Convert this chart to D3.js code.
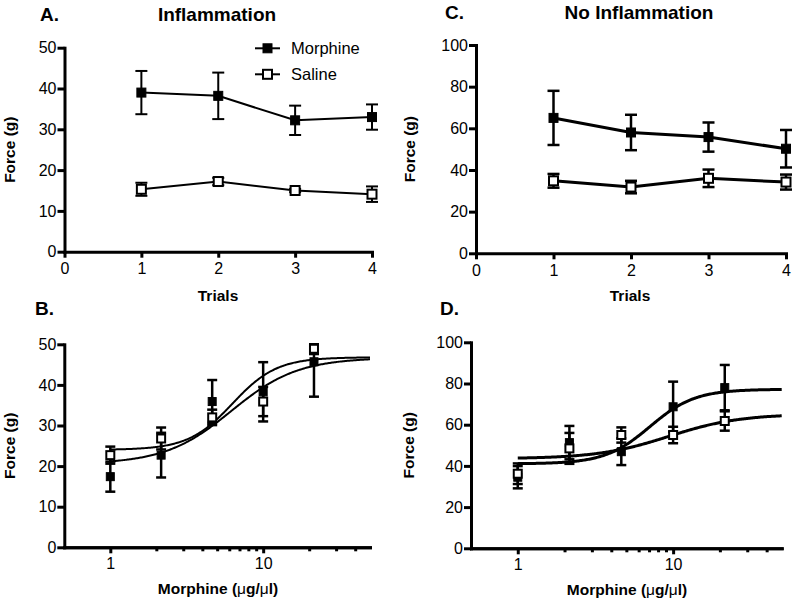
<!DOCTYPE html>
<html>
<head>
<meta charset="utf-8">
<script src="https://cdnjs.cloudflare.com/ajax/libs/d3/7.8.5/d3.min.js"></script>
<style>
  body { margin: 0; background: #fff; }
  svg { display: block; font-family: "Liberation Sans", Arial, Helvetica, sans-serif; }
  .axis path, .axis line { stroke: #000; stroke-width: 3; }
  .axis text { font-size: 16px; fill: #000; }
</style>
</head>
<body>
<div id="chart"></div>
<script>
// trials panels (A, C)
var trials = [1, 2, 3, 4];
var trialTicks = [0, 1, 2, 3, 4];
var aMorphMean = [39.0, 38.2, 32.2, 33.0];
var aMorphSem = [5.3, 5.7, 3.6, 3.1];
var aSalMean = [15.3, 17.2, 15.0, 14.1];
var aSalSem = [1.6, 0.9, 0.4, 1.9];
var cMorphMean = [65.0, 58.0, 55.8, 50.2];
var cMorphSem = [13.0, 8.5, 7.0, 9.0];
var cSalMean = [34.8, 31.8, 36.0, 34.2];
var cSalSem = [3.3, 3.0, 4.2, 3.6];

// dose-response panels (B, D)
var doses = [1, 2.15, 4.64, 10, 21.5];
var bMorphMean = [17.4, 22.7, 35.9, 38.3, 45.7];
var bMorphSem = [3.7, 5.5, 5.3, 7.3, 8.6];
var bSalMean = [22.7, 26.8, 32.0, 35.9, 48.9];
var bSalSem = [2.1, 2.7, 1.9, 3.6, 1.3];
var dMorphMean = [34.5, 51.3, 46.9, 68.7, 78.0];
var dMorphSem = [5.4, 8.1, 6.5, 12.2, 11.0];
var dSalMean = [36.2, 48.5, 55.0, 55.0, 61.8];
var dSalSem = [5.0, 7.5, 3.7, 4.0, 4.7];

// sigmoid fits: [bottom, top, EC50, hill]
var bMorphFit = [20.5, 46.7, 6.2, 2.0];
var bSalFit = [24.0, 46.8, 6.3, 3.0];
var dMorphFit = [41.0, 77.2, 7.1, 3.0];
var dSalFit = [43.5, 65.2, 9.4, 1.9];

var yTicks50 = [0, 10, 20, 30, 40, 50];
var yTicks100 = [0, 20, 40, 60, 80, 100];
var logMajor = [1, 10];
var logMinor = [2, 3, 4, 5, 6, 7, 8, 9, 20, 30, 40];

var svg = d3.select("#chart").append("svg")
  .attr("width", 800)
  .attr("height", 609);

function fitCurve(p) {
  return function (x) {
    return p[0] + (p[1] - p[0]) / (1 + Math.pow(10, (Math.log10(p[2]) - Math.log10(x)) * p[3]));
  };
}

function drawPanel(o) {
  var g = svg.append("g");
  var x = o.log
    ? d3.scaleLog().domain([0.5, 50]).range([o.left, o.right])
    : d3.scaleLinear().domain([0, 4]).range([o.left, o.right]);
  var y = d3.scaleLinear().domain(o.yDomain).range([o.bottom, o.top]).clamp(true);

  // axes
  g.append("g").attr("class", "axis")
    .attr("transform", "translate(" + o.left + ",0)")
    .call(d3.axisLeft(y).tickValues(o.yTicks).tickSize(7).tickPadding(1).tickSizeOuter(0));

  if (o.log) {
    g.append("g").attr("class", "axis")
      .attr("transform", "translate(0," + o.bottom + ")")
      .call(d3.axisBottom(x).tickValues(logMinor).tickSize(4).tickFormat("").tickSizeOuter(0));
    g.append("g").attr("class", "axis")
      .attr("transform", "translate(0," + o.bottom + ")")
      .call(d3.axisBottom(x).tickValues(logMajor).tickSize(6).tickPadding(4)
        .tickFormat(d3.format("d")).tickSizeOuter(0));
  } else {
    g.append("g").attr("class", "axis")
      .attr("transform", "translate(0," + o.bottom + ")")
      .call(d3.axisBottom(x).tickValues(trialTicks).tickSize(6).tickPadding(5)
        .tickFormat(d3.format("d")).tickSizeOuter(0));
  }
  g.selectAll(".axis .domain").attr("stroke-linecap", "square");

  // lines or fitted curves
  o.series.forEach(function (s) {
    var line = d3.line().x(function (d) { return x(d[0]); }).y(function (d) { return y(d[1]); });
    var pts;
    if (s.fit) {
      var f = fitCurve(s.fit);
      pts = d3.range(0, 241).map(function (i) {
        var xv = Math.pow(10, i / 240 * Math.log10(50));
        return [xv, f(xv)];
      });
    } else {
      pts = o.xs.map(function (d, i) { return [d, s.mean[i]]; });
    }
    g.append("path").attr("d", line(pts))
      .attr("fill", "none").attr("stroke", "#000").attr("stroke-width", o.lineW);
  });

  // error bars + markers
  o.series.forEach(function (s) {
    var eb = g.append("g").attr("stroke", "#000").attr("stroke-width", o.errW);
    o.xs.forEach(function (d, i) {
      var cx = x(d), lo = y(s.mean[i] - s.sem[i]), hi = y(s.mean[i] + s.sem[i]);
      eb.append("line").attr("x1", cx).attr("x2", cx).attr("y1", lo).attr("y2", hi);
      eb.append("line").attr("x1", cx - o.cap).attr("x2", cx + o.cap).attr("y1", lo).attr("y2", lo);
      eb.append("line").attr("x1", cx - o.cap).attr("x2", cx + o.cap).attr("y1", hi).attr("y2", hi);
    });
    var m = o.marker;
    g.selectAll(null).data(o.xs).enter().append("rect")
      .attr("x", function (d) { return x(d) - m / 2; })
      .attr("y", function (d, i) { return y(s.mean[i]) - m / 2; })
      .attr("width", m).attr("height", m)
      .attr("fill", s.open ? "#fff" : "#000")
      .attr("stroke", "#000").attr("stroke-width", s.open ? 2 : 1);
  });

  // texts
  g.append("text").attr("x", o.letterX).attr("y", o.letterY)
    .attr("font-size", 19).attr("font-weight", "bold").text(o.letter);
  if (o.title) {
    g.append("text").attr("x", o.titleX).attr("y", o.letterY).attr("text-anchor", "middle")
      .attr("font-size", 19).attr("font-weight", "bold").text(o.title);
  }
  g.append("text")
    .attr("transform", "translate(" + o.yLabelX + "," + ((o.top + o.bottom) / 2) + ") rotate(-90)")
    .attr("text-anchor", "middle").attr("font-size", 15.5).attr("font-weight", "bold").text("Force (g)");

  var xl = g.append("text").attr("x", o.xLabelX).attr("y", o.xLabelY).attr("text-anchor", "middle")
    .attr("font-size", 15.5).attr("font-weight", "bold");
  if (o.log) {
    xl.append("tspan").text("Morphine (");
    xl.append("tspan").attr("font-weight", "normal").text("μ");
    xl.append("tspan").text("g/");
    xl.append("tspan").attr("font-weight", "normal").text("μ");
    xl.append("tspan").text("l)");
  } else {
    xl.text("Trials");
  }
}

drawPanel({
  letter: "A.", letterX: 40, letterY: 21, title: "Inflammation", titleX: 217,
  left: 64.5, right: 372, top: 47.7, bottom: 251.7, yDomain: [0, 50], yTicks: yTicks50,
  xs: trials, lineW: 2, errW: 2, cap: 6, marker: 9,
  yLabelX: 15, xLabelX: 218, xLabelY: 301,
  series: [
    { mean: aMorphMean, sem: aMorphSem, open: false },
    { mean: aSalMean, sem: aSalSem, open: true }
  ]
});

drawPanel({
  letter: "C.", letterX: 445, letterY: 19, title: "No Inflammation", titleX: 639,
  left: 476, right: 786, top: 45, bottom: 253.3, yDomain: [0, 100], yTicks: yTicks100,
  xs: trials, lineW: 3, errW: 2.5, cap: 6, marker: 9,
  yLabelX: 415, xLabelX: 630, xLabelY: 301,
  series: [
    { mean: cMorphMean, sem: cMorphSem, open: false },
    { mean: cSalMean, sem: cSalSem, open: true }
  ]
});

drawPanel({
  letter: "B.", letterX: 35, letterY: 315, log: true,
  left: 64.3, right: 370, top: 344.3, bottom: 547.3, yDomain: [0, 50], yTicks: yTicks50,
  xs: doses, lineW: 2, errW: 2.5, cap: 5, marker: 8,
  yLabelX: 15, xLabelX: 218, xLabelY: 594,
  series: [
    { mean: bMorphMean, sem: bMorphSem, open: false, fit: bMorphFit },
    { mean: bSalMean, sem: bSalSem, open: true, fit: bSalFit }
  ]
});

drawPanel({
  letter: "D.", letterX: 440, letterY: 315, log: true,
  left: 471, right: 781.7, top: 342.3, bottom: 548.3, yDomain: [0, 100], yTicks: yTicks100,
  xs: doses, lineW: 3, errW: 2.5, cap: 5, marker: 8,
  yLabelX: 414, xLabelX: 627, xLabelY: 595,
  series: [
    { mean: dMorphMean, sem: dMorphSem, open: false, fit: dMorphFit },
    { mean: dSalMean, sem: dSalSem, open: true, fit: dSalFit }
  ]
});

// legend for panel A
var legendNames = ["Morphine", "Saline"];
var legend = svg.append("g");
legendNames.forEach(function (name, i) {
  var ly = 48.3 + i * 26;
  legend.append("line").attr("x1", 255).attr("x2", 280).attr("y1", ly).attr("y2", ly)
    .attr("stroke", "#000").attr("stroke-width", 2);
  legend.append("rect").attr("x", 267.5 - 4.5).attr("y", ly - 4.5).attr("width", 9).attr("height", 9)
    .attr("fill", i === 0 ? "#000" : "#fff").attr("stroke", "#000").attr("stroke-width", i === 0 ? 1 : 2);
  legend.append("text").attr("x", 291).attr("y", ly + 6).attr("font-size", 16.5).text(name);
});
</script>
</body>
</html>
